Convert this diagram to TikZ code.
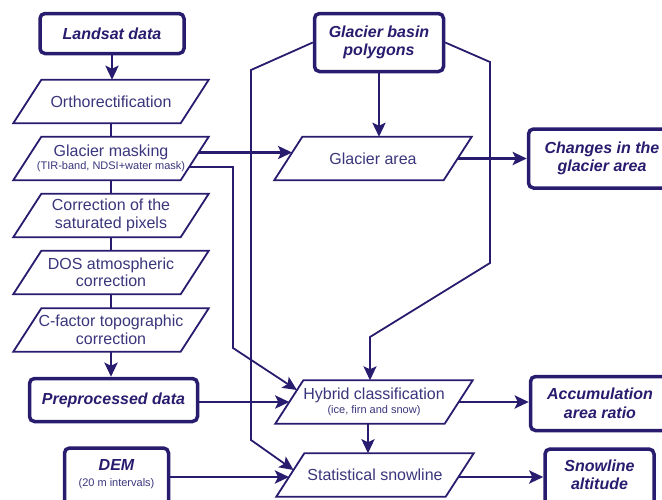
\documentclass[tikz,border=0pt]{standalone}
\usepackage{fontspec}
\setmainfont{Liberation Sans}
\usetikzlibrary{arrows.meta,calc}
\definecolor{navy}{RGB}{40,28,110}
\definecolor{softnavy}{RGB}{58,54,124}
\newcommand\smalltxt{\fontsize{11}{12}\selectfont}
\begin{document}
\begin{tikzpicture}[x=1pt,y=-1pt,
  line/.style={draw=navy, line width=2.8pt},
  thinline/.style={draw=navy, line width=1.8pt},
  arr/.style={-{Stealth[length=14pt,width=13pt,inset=3pt]}},
  keybox/.style={rectangle, draw=navy, line width=3.5pt, rounded corners=5pt,
    inner sep=0pt, align=center, text=navy,
    font=\fontsize{16}{18.5}\selectfont\bfseries\itshape},
  para/.style={rectangle, inner sep=0pt, minimum width=195pt, minimum height=43pt,
    align=center, text=softnavy, font=\fontsize{16}{17.5}\selectfont},
  paraline/.style={draw=navy, line width=1.8pt, line join=miter},
]
\useasboundingbox (0,0) rectangle (662,499);
\fill[white] (0,0) rectangle (662,499);
\clip (0,0) rectangle (662,499);

% input and output boxes
\node[keybox, minimum width=144pt, minimum height=40pt] (landsat) at (112,33.5) {Landsat data};
\node[keybox, minimum width=129pt, minimum height=58pt] (basin) at (379,42.5) {Glacier basin\\polygons};
\node[keybox, minimum width=168pt, minimum height=43pt] (prep) at (113.5,400) {Preprocessed data};
\node[keybox, minimum width=104pt, minimum height=68pt] (dem) at (116.5,482)
  {DEM\\[-3pt]{\smalltxt\mdseries\upshape\color{softnavy}(20 m intervals)}\\[-0.5pt]\mbox{}};
\node[keybox, minimum width=147pt, minimum height=59pt] (changes) at (602,158.5) {Changes in the\\glacier area};
\node[keybox, minimum width=139pt, minimum height=54pt] (accum) at (600,403.5) {Accumulation\\area ratio};
\node[keybox, minimum width=109pt, minimum height=64pt] (snowalt) at (599.5,481)
  {Snowline\\altitude\\[-5.5pt]\mbox{}};

% processing steps
\node[para] (ortho) at (111,101.5) {Orthorectification};
\node[para] (mask) at (111,158.5) {Glacier masking\\[-5pt]{\smalltxt(TIR-band, NDSI+water mask)}};
\node[para] (corr) at (111,215.5) {Correction of the\\saturated pixels};
\node[para] (dos) at (111,272.5) {DOS atmospheric\\correction};
\node[para] (cfac) at (111,330) {C-factor topographic\\correction};
\node[para, minimum width=197pt] (area) at (373,158.5) {Glacier area};
\node[para, minimum width=197pt] (hyb) at (374,402) {Hybrid classification\\[-3pt]{\smalltxt(ice, firn and snow)}};
\node[para, minimum width=197pt] (stat) at (375,475) {Statistical snowline};

% parallelogram outlines
\foreach \n in {ortho,mask,corr,dos,cfac,area,hyb,stat}
  \draw[paraline] ([xshift=28pt]\n.north west) -- (\n.north east)
    -- ([xshift=-28pt]\n.south east) -- (\n.south west) -- cycle;

% preprocessing chain
\draw[line,arr] (landsat.south) -- (landsat.south |- ortho.north);
\draw[line] (ortho.south) -- (mask.north);
\draw[line] (mask.south) -- (corr.north);
\draw[line] (corr.south) -- (dos.north);
\draw[line] (dos.south) -- (cfac.north);
\draw[line,arr] (cfac.south) -- (cfac.south |- prep.north);

% glacier mask branches
\draw[line,arr] ([xshift=-10.2pt,yshift=6pt]mask.east) -- ([xshift=17.8pt,yshift=6pt]area.west);
\coordinate (mk) at (233,348);
\draw[thinline,arr] ([xshift=-19.4pt,yshift=-8.5pt]mask.east) -| (mk)
  -- ([xshift=21.6pt,yshift=12pt]hyb.west);

% glacier basin polygons branches
\coordinate (bl1) at (251,70);
\coordinate (bl2) at (251,440);
\draw[thinline,arr] (basin.west) -- (bl1) -- (bl2) -- ([xshift=17.2pt,yshift=5pt]stat.west);
\coordinate (br1) at (490,62);
\coordinate (br2) at (490,263);
\coordinate (br3) at (370,337);
\draw[thinline,arr] (basin.east) -- (br1) -- (br2) -- (br3) -- (br3 |- hyb.north);
\draw[line,arr] (basin.south) -- (basin.south |- area.north);

% results
\draw[line,arr] ([xshift=-14pt]area.east) -- (changes.west);
\draw[line,arr] (prep.east |- hyb.center) -- ([xshift=14pt]hyb.west);
\draw[line,arr] ([xshift=-14pt]hyb.east) -- (accum.west |- hyb.east);
\coordinate (hs) at ([xshift=-6pt]hyb.south);
\draw[line,arr] (hs) -- (hs |- stat.north);
\coordinate (dm) at ([xshift=12.7pt,yshift=-2pt]stat.west);
\draw[line,arr] (dem.east |- dm) -- (dm);
\coordinate (sm) at ([xshift=-15.3pt,yshift=-2pt]stat.east);
\draw[line,arr] (sm) -- (snowalt.west |- sm);
\end{tikzpicture}
\end{document}
